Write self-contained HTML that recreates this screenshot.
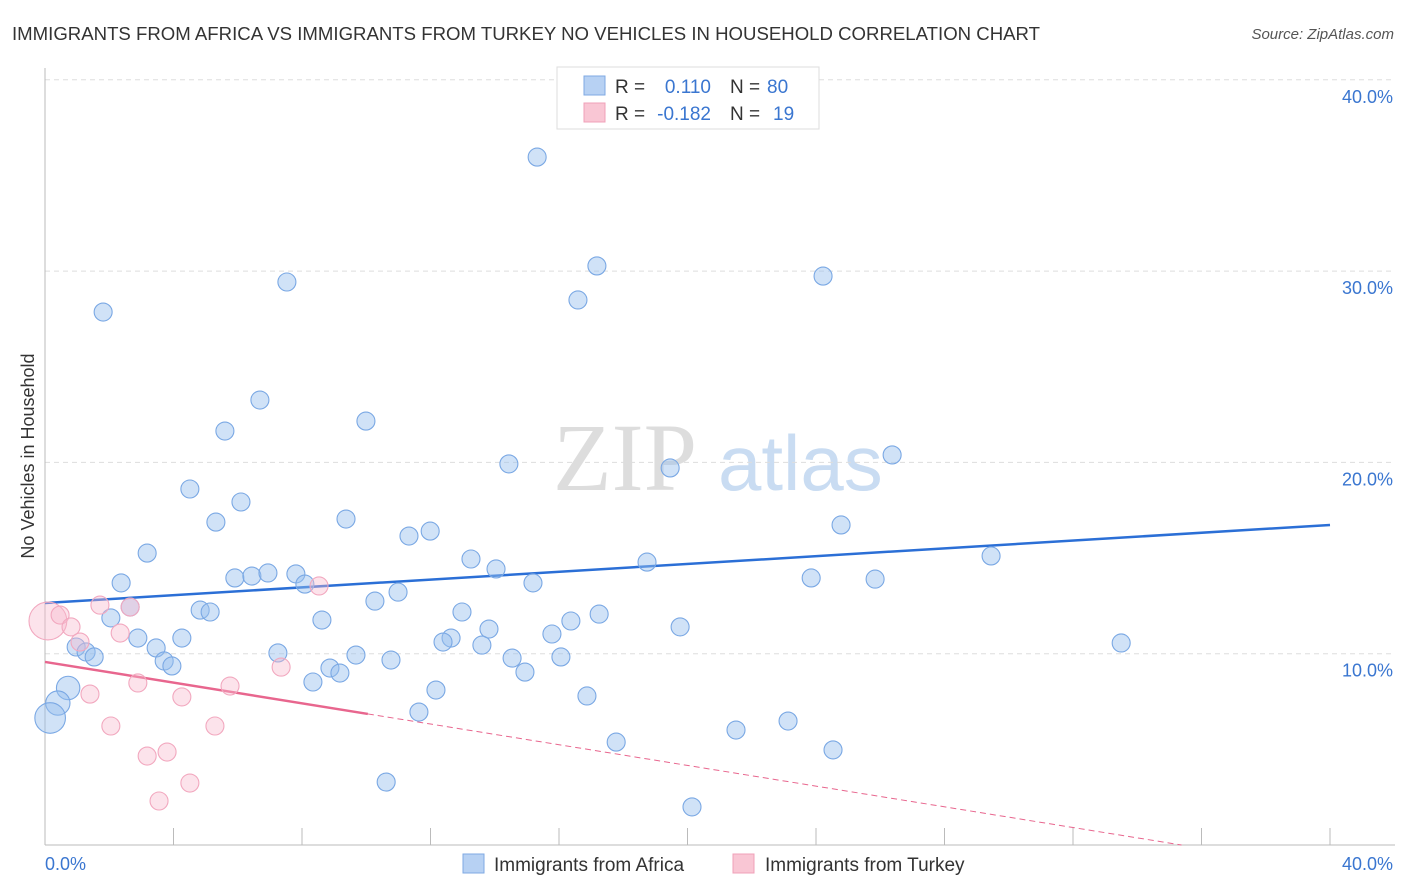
<!DOCTYPE html>
<html><head><meta charset="utf-8"><style>
body{margin:0;background:#fff;font-family:"Liberation Sans",sans-serif;}
svg{display:block}
</style></head><body>
<svg width="1406" height="892" viewBox="0 0 1406 892">
<text x="12" y="40" font-size="18" fill="#333" textLength="1028" lengthAdjust="spacingAndGlyphs">IMMIGRANTS FROM AFRICA VS IMMIGRANTS FROM TURKEY NO VEHICLES IN HOUSEHOLD CORRELATION CHART</text>
<text x="1394" y="39" font-size="15" fill="#555" font-style="italic" text-anchor="end">Source: ZipAtlas.com</text>
<g>
<text x="553" y="490" font-size="96" font-family="Liberation Serif,serif" fill="#ddd">ZIP</text>
<text x="718" y="490" font-size="78" fill="#c9dcf2">atlas</text>
</g>
<g id="grid"></g>
<line x1="45" y1="68" x2="45" y2="845" stroke="#bbb"/>
<line x1="45" y1="845" x2="1395" y2="845" stroke="#bbb"/>
<text x="45" y="870" font-size="18" fill="#3a76d0">0.0%</text>
<text x="1393" y="870" font-size="18" fill="#3a76d0" text-anchor="end">40.0%</text>
<text transform="translate(34,456) rotate(-90)" font-size="18" fill="#333" text-anchor="middle">No Vehicles in Household</text>
<g id="lines"></g>
<g id="pts"></g>
<g>
<rect x="557" y="67" width="262" height="62" fill="#fff" stroke="#ddd"/>
<rect x="584" y="76" width="21" height="19" fill="#b7d1f3" stroke="#7fa9e3"/>
<rect x="584" y="103" width="21" height="19" fill="#f9c6d4" stroke="#f0a0b8"/>
<text x="615" y="93" font-size="19" fill="#333">R =</text>
<text x="711" y="93" font-size="19" fill="#3a76d0" text-anchor="end">0.110</text>
<text x="730" y="93" font-size="19" fill="#333">N =</text>
<text x="767" y="93" font-size="19" fill="#3a76d0">80</text>
<text x="615" y="120" font-size="19" fill="#333">R =</text>
<text x="711" y="120" font-size="19" fill="#3a76d0" text-anchor="end">-0.182</text>
<text x="730" y="120" font-size="19" fill="#333">N =</text>
<text x="773" y="120" font-size="19" fill="#3a76d0">19</text>
</g>
<g>
<rect x="463" y="854" width="21" height="19" fill="#b7d1f3" stroke="#7fa9e3"/>
<text x="494" y="871" font-size="19" fill="#333">Immigrants from Africa</text>
<rect x="733" y="854" width="21" height="19" fill="#f9c6d4" stroke="#f0a0b8"/>
<text x="765" y="871" font-size="19" fill="#333">Immigrants from Turkey</text>
</g>
</svg>
<script>
const yTicks=[10,20,30,40];
const xTickVals=[0,4,8,12,16,20,24,28,32,36,40];
const africaX=[15.32,17.18,16.59,24.22,7.53,1.81,6.69,9.99,5.60,14.44,19.46,26.37,4.51,6.10,5.32,9.37,11.99,11.33,24.78,3.18,13.26,18.74,29.45,14.04,2.37,5.91,6.44,6.94,7.81,8.09,15.19,23.85,25.84,10.99,10.27,2.65,4.83,5.14,2.05,12.98,17.25,16.37,8.62,13.82,19.77,2.89,4.26,15.78,12.64,12.39,13.60,33.50,0.97,1.28,1.53,3.46,7.25,9.68,3.71,3.95,10.77,14.54,16.06,8.87,9.18,14.94,8.34,0.72,12.17,0.40,16.87,11.64,0.16,23.13,21.51,17.78,24.53,10.62,20.14];
const africaY=[35.96,30.27,28.49,29.74,29.43,27.86,23.26,22.16,21.64,19.92,19.71,20.39,18.61,17.93,16.88,17.04,16.41,16.15,16.73,15.26,14.95,14.79,15.11,14.43,13.70,13.96,14.06,14.22,14.17,13.64,13.70,13.96,13.90,13.22,12.75,12.44,12.28,12.18,11.87,12.18,12.07,11.71,11.76,11.29,11.40,10.82,10.82,11.03,10.82,10.61,10.45,10.56,10.35,10.09,9.83,10.30,10.04,9.93,9.62,9.36,9.67,9.77,9.83,9.25,8.99,9.04,8.52,8.21,8.10,7.42,7.79,6.95,6.64,6.48,6.01,5.38,4.97,3.29,1.99];
const africaSize=[1,1,1,1,1,1,1,1,1,1,1,1,1,1,1,1,1,1,1,1,1,1,1,1,1,1,1,1,1,1,1,1,1,1,1,1,1,1,1,1,1,1,1,1,1,1,1,1,1,1,1,1,1,1,1,1,1,1,1,1,1,1,1,1,1,1,1,1.3,1,1.35,1,1,1.7,1,1,1,1,1,1];
const turkeyX=[0.09,0.47,0.81,1.71,2.65,2.34,1.09,8.53,1.40,2.89,4.26,5.76,7.35,2.05,5.29,3.18,3.80,4.51,3.55];
const turkeyY=[11.71,12.02,11.40,12.54,12.44,11.08,10.61,13.54,7.89,8.47,7.74,8.31,9.30,6.22,6.22,4.65,4.86,3.24,2.30];
const turkeySize=[2.1,1,1,1,1,1,1,1,1,1,1,1,1,1,1,1,1,1,1];
const africaTrend=[12.65,16.73];
const turkeyTrend=[9.57,-1.25];
const turkeySolidEnd=10.05;

const NS="http://www.w3.org/2000/svg";
const X=v=>45+v/40*1285;
const Y=v=>845-v/10*191.3;
function mk(t,a,p){const e=document.createElementNS(NS,t);for(const k in a)e.setAttribute(k,a[k]);p.appendChild(e);return e;}
const grid=document.getElementById('grid');
yTicks.forEach(t=>{
 const l=mk('line',{x1:45,x2:1395,y1:Y(t),y2:Y(t),stroke:'#ddd','stroke-dasharray':'5,4'},grid);
 
 
 const tx=mk('text',{x:1393,y:Y(t)+23,'font-size':18,fill:'#3a76d0','text-anchor':'end'},grid);
 tx.textContent=t.toFixed(1)+'%';
 
 
});
xTickVals.forEach(t=>{
 const l=mk('line',{x1:X(t),x2:X(t),y1:828,y2:845,stroke:'#bbb'},grid);
 
 
});
const pts=document.getElementById('pts');
africaX.forEach((v,i)=>{
 const c=mk('circle',{cx:X(v),cy:Y(africaY[i]),r:9*africaSize[i],fill:'rgba(150,190,238,0.45)',stroke:'#7aa8e4','stroke-width':1.1},pts);
 
 
});
turkeyX.forEach((v,i)=>{
 const c=mk('circle',{cx:X(v),cy:Y(turkeyY[i]),r:9*turkeySize[i],fill:'rgba(248,185,204,0.4)',stroke:'#f2a8bf','stroke-width':1.1},pts);
 
 
});
const lines=document.getElementById('lines');
const bl=mk('line',{x1:X(0),y1:Y(africaTrend[0]),x2:X(40),y2:Y(africaTrend[1]),stroke:'#2b6fd6','stroke-width':2.5},lines);


const ty=x=>turkeyTrend[0]+(turkeyTrend[1]-turkeyTrend[0])*x/40;
const pl=mk('line',{x1:X(0),y1:Y(ty(0)),x2:X(turkeySolidEnd),y2:Y(ty(turkeySolidEnd)),stroke:'#e8668e','stroke-width':2.5},lines);


const xEnd=-turkeyTrend[0]*40/(turkeyTrend[1]-turkeyTrend[0]);
const pd=mk('line',{x1:X(turkeySolidEnd),y1:Y(ty(turkeySolidEnd)),x2:X(xEnd),y2:Y(0),stroke:'#e8668e','stroke-width':1,'stroke-dasharray':'6,4'},lines);


</script>
</body></html>
